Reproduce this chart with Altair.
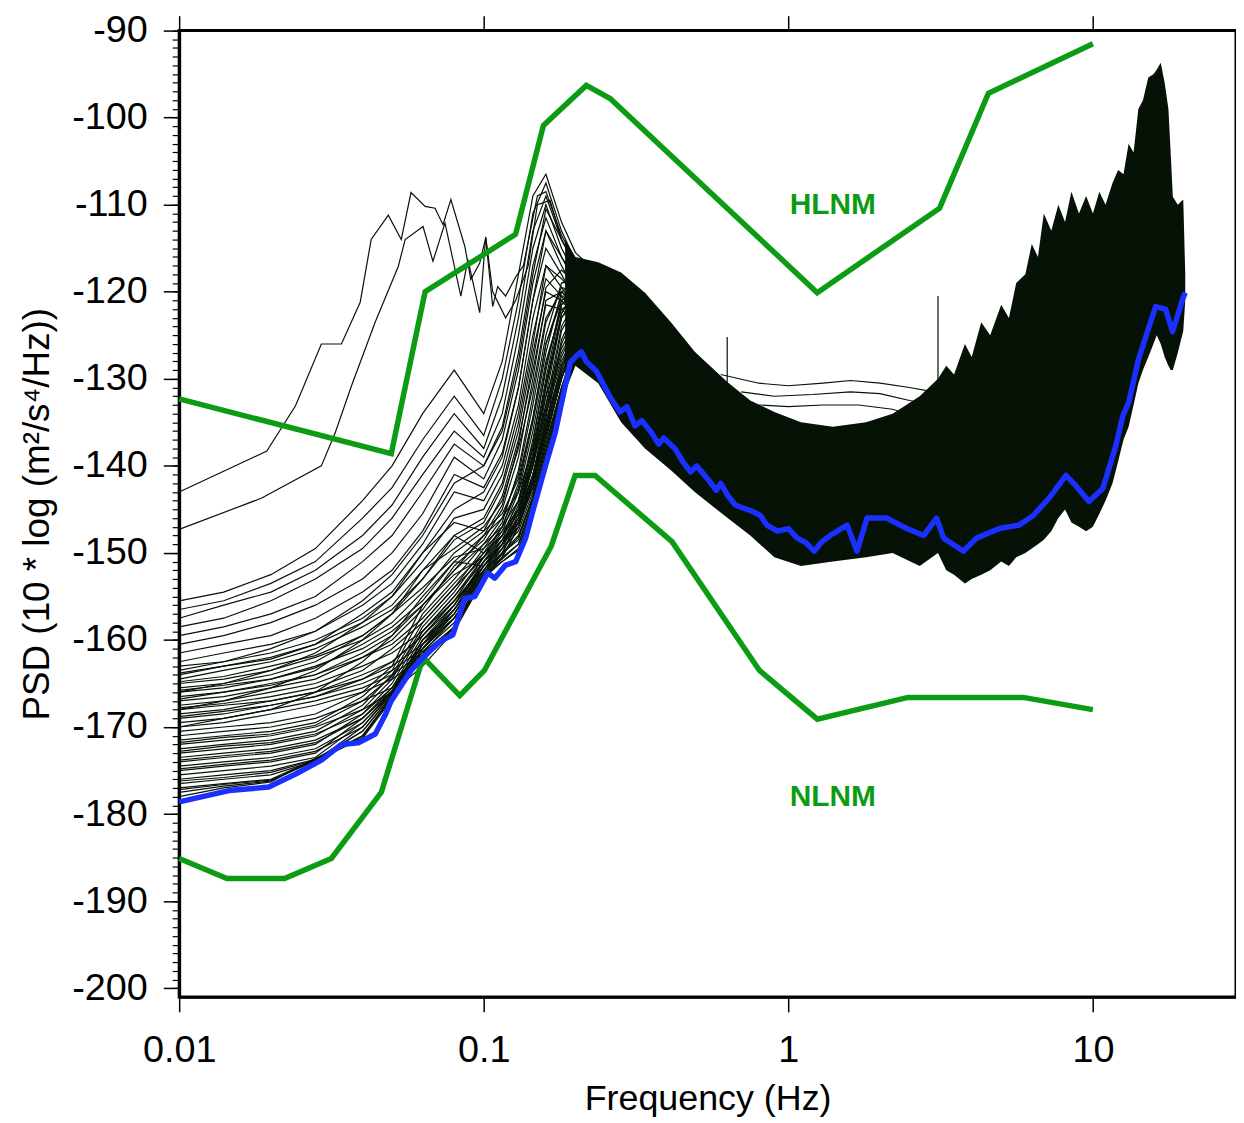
import altair as alt
import pandas as pd

# ---------------- data ----------------
# Peterson noise models (green)
HLNM_F = [0.01, 0.0497, 0.0642, 0.1272, 0.157, 0.2171, 0.26, 1.244, 3.138, 4.54, 10.0]
HLNM_V = [-132.3, -138.6, -120.0, -113.4, -100.9, -96.3, -97.8, -120.1, -110.4, -97.2, -91.5]

NLNM_F = [0.01, 0.01435, 0.02218, 0.0316, 0.0461, 0.0632, 0.0834, 0.1005, 0.1667, 0.1995,
          0.232, 0.415, 0.804, 1.245, 2.47, 5.9, 10.0]
NLNM_V = [-185.1, -187.4, -187.4, -185.1, -177.5, -162.0, -166.4, -163.5, -149.2, -141.1,
          -141.1, -148.7, -163.5, -169.1, -166.6, -166.6, -168.0]

# minimum PSD (blue)
BLUE_F = [0.01, 0.01457, 0.01968, 0.02412, 0.02933, 0.0341, 0.03874, 0.04404, 0.04749, 0.04967,
          0.05771, 0.06319, 0.07237, 0.0792, 0.08668, 0.09346, 0.1031, 0.1086, 0.118, 0.1273,
          0.1372, 0.1457, 0.1595, 0.1719, 0.1826, 0.1924, 0.2013, 0.2091, 0.2171, 0.2341,
          0.262, 0.28, 0.295, 0.3139, 0.33, 0.354, 0.375, 0.39, 0.4241, 0.45,
          0.4783, 0.5, 0.5436, 0.58, 0.6, 0.6322, 0.67, 0.7182, 0.76, 0.8098,
          0.85, 0.9207, 1.0, 1.07, 1.14, 1.216, 1.29, 1.372, 1.559, 1.681,
          1.813, 2.107, 2.448, 2.782, 3.068, 3.234, 3.761, 4.146, 4.93, 5.73,
          6.37, 7.18, 8.16, 8.8, 9.7, 10.78, 11.89, 12.53, 13.11, 14.13,
          15.2, 16.07, 17.32, 18.26, 19.68, 20.1]
BLUE_V = [-178.6, -177.3, -176.9, -175.4, -173.8, -172.0, -171.8, -170.8, -168.6, -167.0,
          -163.5, -162.0, -160.1, -159.4, -155.2, -155.0, -152.3, -152.9, -151.4, -151.0,
          -148.3, -144.9, -140.0, -136.1, -131.8, -128.1, -127.4, -126.9, -128.0, -129.1,
          -132.3, -133.8, -133.2, -135.4, -134.8, -136.1, -137.5, -136.8, -138.0, -139.5,
          -140.7, -140.0, -141.5, -142.8, -142.0, -143.4, -144.5, -144.9, -145.2, -145.7,
          -146.8, -147.5, -147.2, -148.3, -148.8, -149.8, -148.7, -148.0, -146.8, -149.8,
          -146.0, -146.0, -147.2, -148.0, -146.0, -148.3, -149.8, -148.3, -147.2, -146.8,
          -145.7, -143.7, -141.1, -142.3, -144.1, -142.6, -137.7, -134.3, -132.7, -127.7,
          -124.3, -121.7, -122.0, -124.6, -120.9, -120.1]

# dense black mass of spectra (upper / lower envelope)
BAND_F = [0.185, 0.2, 0.2376, 0.2825, 0.3384, 0.4116, 0.493, 0.632, 0.75, 0.9, 1.1,
          1.4, 1.8, 2.2, 2.7, 3.1, 3.3, 3.5, 3.8, 4.0, 4.3,
          4.6, 5.0, 5.3, 5.6, 6.0, 6.3, 6.6, 6.9, 7.3, 7.7,
          8.1, 8.5, 9.0, 9.5, 10.0, 10.5, 11.0, 11.6, 12.1, 12.6,
          13.1, 13.6, 14.1, 14.6, 15.2, 15.8, 16.2, 16.7, 17.2, 17.7,
          18.0, 18.3, 19.0, 19.8, 20.1]
BAND_TOP = [-114.0, -116.0, -116.6, -117.8, -120.1, -123.5, -126.9, -130.4, -132.5, -133.8, -135.0,
            -135.5, -135.0, -134.0, -132.0, -130.0, -128.5, -129.5, -126.0, -127.5, -123.5,
            -125.0, -121.5, -123.0, -119.0, -118.0, -114.5, -116.0, -111.0, -113.0, -110.0,
            -112.0, -108.5, -111.0, -109.0, -111.0, -108.5, -110.0, -107.5, -106.0, -106.5,
            -103.0, -104.0, -99.0, -98.0, -95.4, -95.0, -94.5, -93.7, -96.0, -99.0,
            -104.0, -109.1, -110.0, -109.4, -118.0]
BAND_LOW = [-131.5, -128.5, -130.5, -135.0, -138.0, -140.5, -143.0, -146.0, -148.0, -150.5, -151.5,
            -151.0, -150.5, -150.0, -151.5, -150.0, -152.0, -152.5, -153.5, -153.0, -152.5,
            -152.0, -151.0, -151.5, -150.5, -150.0, -149.5, -149.0, -148.5, -147.5, -146.0,
            -145.0, -146.5, -147.0, -147.5, -147.0, -145.5, -144.0, -142.0, -139.5, -137.0,
            -135.5, -133.0, -130.5, -129.0, -127.5, -126.0, -125.0, -126.0, -127.5, -128.5,
            -129.0, -129.0, -127.0, -124.5, -121.0]

# low-frequency spectra (thin black lines)
FAN_F = [0.01, 0.014, 0.02, 0.028, 0.04, 0.05, 0.063, 0.08, 0.1, 0.115, 0.13, 0.145, 0.16, 0.18, 0.2, 0.23, 0.27]
U1 = [-155.5, -154.5, -152.5, -149.5, -144.0, -140.0, -134.0, -129.0, -134.0, -128.0, -118.0, -109.0, -106.5, -112.0, -115.5, -117.5, -120.0]
U2 = [-156.5, -155.5, -153.5, -151.0, -146.0, -142.5, -137.0, -132.0, -136.5, -130.0, -121.0, -111.0, -107.5, -113.0, -116.5, -118.5, -121.0]
U3 = [-157.5, -156.0, -154.5, -152.0, -148.0, -144.5, -139.0, -134.0, -138.0, -132.0, -123.0, -113.0, -109.0, -114.0, -117.0, -119.0, -122.0]
U4 = [-158.5, -157.5, -155.5, -153.0, -149.5, -146.0, -141.0, -136.0, -139.0, -134.0, -125.0, -115.0, -110.0, -115.0, -118.0, -120.0, -122.5]
U5 = [-159.5, -158.5, -157.0, -155.0, -151.0, -148.0, -143.0, -137.5, -140.0, -135.5, -127.0, -117.0, -111.5, -116.0, -119.0, -120.5, -123.0]
U6 = [-160.5, -159.5, -158.0, -156.0, -153.0, -150.0, -145.5, -139.0, -141.5, -137.0, -129.0, -119.0, -113.0, -117.0, -120.0, -121.5, -123.5]
U7 = [-161.5, -160.5, -159.5, -157.5, -154.5, -152.0, -147.5, -141.0, -142.5, -138.5, -131.0, -121.0, -115.0, -118.0, -121.0, -122.0, -124.0]
U8 = [-162.5, -161.5, -160.5, -159.0, -156.0, -153.5, -149.0, -143.0, -144.0, -140.0, -133.0, -123.0, -117.0, -119.5, -122.0, -123.0, -125.0]
M1 = [-163.5, -162.5, -161.5, -160.0, -157.5, -155.0, -151.0, -146.0, -145.0, -141.0, -134.0, -125.0, -118.5, -120.5, -122.5, -123.5, -125.0]
M2 = [-164.5, -163.5, -162.5, -161.0, -158.5, -156.5, -153.0, -148.5, -146.5, -142.5, -136.0, -127.0, -120.0, -121.0, -123.0, -124.0, -126.0]
M3 = [-165.0, -164.5, -163.5, -162.0, -160.0, -158.0, -154.5, -150.0, -147.5, -143.5, -137.0, -129.0, -121.5, -122.0, -123.5, -124.5, -126.0]
M4 = [-166.0, -165.5, -164.5, -163.0, -161.0, -159.0, -156.0, -152.0, -149.0, -146.0, -141.0, -133.0, -125.0, -119.0, -118.5, -121.0, -124.0]
M5 = [-166.5, -166.0, -165.0, -164.0, -162.0, -160.5, -157.5, -153.5, -150.0, -147.0, -142.5, -135.0, -127.0, -120.0, -119.0, -121.5, -124.5]
M6 = [-167.5, -167.0, -166.0, -165.0, -163.0, -161.5, -159.0, -155.0, -151.0, -148.0, -144.0, -137.0, -129.0, -121.0, -119.5, -122.0, -125.0]
M7 = [-168.5, -168.0, -167.0, -166.0, -164.5, -163.0, -160.5, -156.5, -152.0, -149.0, -145.0, -139.0, -131.0, -122.5, -120.0, -122.5, -125.5]
M8 = [-169.0, -168.5, -167.5, -166.5, -165.0, -163.5, -161.0, -157.5, -152.5, -150.0, -146.0, -140.0, -133.0, -124.0, -121.0, -123.0, -126.0]
M9 = [-170.0, -169.5, -168.5, -167.5, -166.0, -164.5, -162.0, -158.5, -153.0, -150.5, -147.0, -141.5, -134.5, -125.5, -122.0, -124.0, -127.0]
L1 = [-170.5, -170.0, -169.5, -168.5, -166.0, -163.0, -156.0, -152.0, -148.0, -146.0, -143.0, -138.0, -132.0, -126.5, -123.5, -125.0, -128.5]
L2 = [-171.5, -171.0, -170.5, -169.5, -166.5, -163.5, -157.0, -153.0, -149.0, -147.0, -144.0, -139.0, -133.0, -127.0, -124.0, -125.5, -129.0]
L3 = [-172.5, -172.0, -171.5, -170.5, -167.5, -164.0, -158.0, -154.0, -149.5, -147.5, -145.0, -140.0, -134.0, -128.0, -124.5, -126.0, -129.5]
L4 = [-173.0, -172.5, -172.0, -171.0, -168.0, -164.5, -158.5, -154.5, -150.0, -148.0, -145.5, -141.0, -135.0, -128.5, -125.0, -126.0, -130.0]
L5 = [-174.0, -173.5, -173.0, -172.0, -168.5, -165.0, -159.0, -155.5, -150.5, -148.5, -146.5, -141.5, -135.5, -129.0, -125.0, -126.5, -130.0]
L6 = [-175.0, -174.5, -174.0, -173.0, -169.0, -165.5, -159.5, -156.0, -151.0, -149.0, -147.0, -142.0, -136.0, -129.5, -125.5, -126.5, -130.5]
L7 = [-175.5, -175.0, -174.5, -173.5, -169.5, -166.0, -160.0, -156.5, -151.5, -149.5, -147.5, -143.0, -137.0, -130.0, -125.5, -127.0, -131.0]
L8 = [-176.5, -176.0, -175.5, -173.9, -170.0, -166.0, -160.5, -157.0, -152.0, -150.0, -148.5, -143.5, -137.5, -131.0, -126.0, -127.0, -131.0]
L9 = [-177.5, -176.8, -176.2, -173.8, -171.0, -166.5, -161.0, -157.5, -152.5, -150.5, -149.0, -144.0, -138.5, -131.5, -126.5, -127.5, -131.5]
L10 = [-178.0, -177.0, -176.3, -173.6, -171.2, -166.5, -161.5, -158.5, -152.5, -151.0, -149.5, -144.5, -139.0, -132.0, -126.8, -127.5, -132.0]
A1 = [-163.0, -162.5, -161.0, -159.0, -155.5, -152.5, -148.0, -142.0, -140.0, -136.0, -128.0, -118.0, -110.5, -114.0, -117.0, -119.0, -121.5]
A2 = [-164.0, -163.0, -162.0, -160.5, -157.0, -154.5, -150.0, -145.0, -143.0, -139.0, -131.0, -121.0, -113.0, -116.0, -118.5, -120.0, -122.5]
A3 = [-165.5, -165.0, -164.0, -162.5, -159.5, -157.0, -153.0, -148.0, -146.0, -142.0, -135.0, -126.0, -117.0, -118.5, -120.5, -121.5, -123.5]
A4 = [-167.0, -166.5, -165.5, -164.5, -162.0, -160.0, -156.5, -151.5, -148.5, -145.0, -139.0, -130.0, -121.0, -120.0, -121.5, -122.5, -124.5]
B1 = [-168.0, -167.5, -167.0, -166.0, -164.0, -162.5, -159.5, -155.5, -151.5, -148.5, -144.5, -138.0, -130.0, -121.5, -119.5, -122.0, -125.0]
B2 = [-169.5, -169.0, -168.0, -167.0, -165.5, -164.0, -161.5, -157.5, -152.5, -149.5, -145.5, -140.0, -132.0, -123.0, -120.5, -122.5, -125.5]
B3 = [-171.0, -170.5, -170.0, -169.0, -167.0, -165.5, -162.5, -158.5, -153.0, -150.0, -146.5, -141.0, -134.0, -124.5, -121.5, -123.5, -126.5]
B4 = [-172.0, -171.5, -171.0, -170.0, -168.0, -166.0, -163.0, -159.0, -153.0, -150.5, -147.0, -142.0, -135.5, -126.0, -122.5, -124.5, -127.5]
C1 = [-173.5, -173.0, -172.5, -171.5, -169.0, -166.0, -161.0, -157.0, -151.5, -149.0, -146.5, -142.0, -136.0, -129.5, -125.5, -126.5, -130.0]
C2 = [-174.5, -174.0, -173.5, -172.5, -169.5, -166.0, -160.0, -156.0, -151.0, -149.0, -146.5, -142.5, -136.5, -130.0, -126.0, -127.0, -130.5]
C3 = [-176.0, -175.5, -175.0, -173.7, -170.5, -166.3, -161.0, -157.5, -152.0, -150.0, -148.0, -143.5, -137.5, -131.0, -126.5, -127.5, -131.0]
C4 = [-177.0, -176.5, -176.0, -173.7, -171.0, -166.6, -161.3, -158.0, -152.7, -150.7, -149.0, -144.5, -138.5, -131.8, -126.9, -127.8, -131.8]
D1 = [-166.0, -165.0, -163.5, -161.5, -158.0, -155.0, -150.0, -146.5, -147.5, -145.5, -141.5, -134.5, -126.0, -121.0, -120.0, -122.0, -125.0]
D2 = [-168.0, -167.0, -165.5, -163.5, -160.0, -157.0, -152.0, -148.0, -150.0, -148.0, -144.0, -137.5, -128.5, -121.5, -120.5, -122.5, -125.5]
D3 = [-170.0, -169.0, -168.0, -166.0, -162.5, -159.5, -155.0, -151.0, -151.5, -149.0, -145.0, -139.5, -131.0, -123.0, -121.0, -123.0, -126.0]
E1 = [-163.8, -163.0, -162.2, -160.5, -158.0, -156.0, -152.0, -149.5, -147.0, -144.0, -138.0, -131.0, -123.0, -120.0, -121.5, -123.0, -125.5]
E2 = [-164.8, -164.2, -163.0, -161.8, -159.5, -157.0, -154.0, -150.5, -149.5, -146.5, -140.5, -132.0, -123.5, -119.5, -120.0, -122.0, -124.5]
E3 = [-165.8, -165.2, -164.5, -163.2, -160.5, -158.5, -155.5, -151.0, -148.0, -144.5, -137.5, -128.0, -119.5, -117.5, -119.0, -121.0, -123.5]
E4 = [-166.8, -166.0, -165.2, -164.0, -161.5, -159.5, -156.0, -152.5, -150.5, -147.5, -143.0, -136.0, -128.0, -122.0, -121.0, -122.5, -125.0]
E5 = [-167.8, -167.3, -166.5, -165.5, -163.5, -161.0, -158.0, -154.0, -150.5, -147.0, -142.0, -134.5, -126.0, -120.5, -120.5, -122.5, -125.0]
E6 = [-168.8, -168.2, -167.5, -166.5, -164.5, -162.5, -159.5, -155.5, -152.0, -149.0, -145.0, -138.5, -130.5, -122.5, -120.0, -122.5, -125.5]
E7 = [-172.8, -172.2, -171.8, -170.8, -168.5, -165.5, -160.5, -156.0, -151.5, -149.0, -146.0, -141.5, -135.5, -129.0, -125.0, -126.0, -129.5]
E8 = [-173.8, -173.3, -172.8, -171.8, -169.0, -165.8, -160.0, -157.0, -152.0, -149.5, -147.0, -142.5, -136.5, -130.0, -125.5, -126.5, -130.5]
E9 = [-174.8, -174.3, -173.8, -172.8, -170.0, -166.2, -161.0, -156.5, -151.0, -148.5, -146.0, -141.0, -135.0, -128.5, -124.5, -126.0, -129.5]
E10 = [-176.2, -175.8, -175.2, -173.8, -170.5, -166.4, -160.5, -157.5, -152.3, -150.2, -148.2, -143.8, -138.0, -131.3, -126.6, -127.6, -131.2]
E11 = [-177.2, -176.6, -176.1, -173.9, -171.3, -166.8, -161.7, -158.7, -152.9, -151.0, -149.7, -144.8, -139.3, -132.2, -127.0, -128.0, -132.3]
E12 = [-171.8, -171.2, -170.8, -169.8, -167.0, -164.2, -159.0, -155.0, -150.5, -148.0, -145.0, -139.5, -133.5, -127.5, -124.0, -125.5, -129.0]
FAN_CURVES = [("U1", U1), ("U2", U2), ("U3", U3), ("U4", U4), ("U5", U5), ("U6", U6), ("U7", U7), ("U8", U8),
              ("M1", M1), ("M2", M2), ("M3", M3), ("M4", M4), ("M5", M5), ("M6", M6), ("M7", M7), ("M8", M8), ("M9", M9),
              ("L1", L1), ("L2", L2), ("L3", L3), ("L4", L4), ("L5", L5), ("L6", L6), ("L7", L7), ("L8", L8), ("L9", L9), ("L10", L10),
              ("A1", A1), ("A2", A2), ("A3", A3), ("A4", A4), ("B1", B1), ("B2", B2), ("B3", B3), ("B4", B4),
              ("C1", C1), ("C2", C2), ("C3", C3), ("C4", C4), ("D1", D1), ("D2", D2), ("D3", D3),
              ("E1", E1), ("E2", E2), ("E3", E3), ("E4", E4), ("E5", E5), ("E6", E6),
              ("E7", E7), ("E8", E8), ("E9", E9), ("E10", E10), ("E11", E11), ("E12", E12)]

# two high outlier spectra at low frequency
OUT1_F = [0.01, 0.0194, 0.0241, 0.0293, 0.0341, 0.0393, 0.0427, 0.0486, 0.0536, 0.0577, 0.0642, 0.0692,
          0.0735, 0.078, 0.0867, 0.0907, 0.097, 0.1015, 0.107, 0.1111, 0.118, 0.1273, 0.135, 0.15, 0.16, 0.18, 0.2, 0.23, 0.27]
OUT1_V = [-143.0, -138.3, -133.1, -126.0, -126.0, -121.2, -114.0, -111.2, -114.0, -108.6, -110.2, -110.4,
          -112.3, -109.4, -114.8, -118.6, -116.7, -113.8, -121.7, -119.4, -120.5, -118.3, -117.0, -109.0, -108.5, -113.5, -116.5, -118.5, -120.5]
OUT2_F = [0.01, 0.01867, 0.0293, 0.0326, 0.0368, 0.044, 0.0524, 0.0552, 0.0632, 0.0681, 0.0746, 0.0841,
          0.0887, 0.097, 0.1015, 0.107, 0.118, 0.1273, 0.14, 0.15, 0.165, 0.18, 0.2, 0.23, 0.27]
OUT2_V = [-147.3, -143.7, -140.0, -136.1, -130.8, -123.5, -117.1, -114.0, -112.5, -116.5, -112.1, -120.5,
          -116.3, -122.4, -113.7, -120.0, -123.0, -121.0, -117.0, -110.0, -109.5, -114.0, -117.0, -119.0, -121.0]

# a few separate spectra above the mass, 0.6 - 3.3 Hz
S1_F = [0.6, 0.8, 1.0, 1.3, 1.6, 2.0, 2.5, 3.0, 3.3]
S1_V = [-129.5, -130.5, -130.8, -130.5, -130.2, -130.5, -131.0, -131.5, -132.0]
S2_F = [0.7, 0.9, 1.2, 1.6, 2.0, 2.5, 3.0]
S2_V = [-131.5, -132.0, -131.8, -131.5, -131.7, -132.5, -133.0]
S3_F = [0.8, 1.0, 1.3, 1.7, 2.2, 2.7]
S3_V = [-133.0, -133.2, -133.0, -133.0, -133.5, -134.5]

# isolated spikes
SPIKE_F = [0.63, 3.1]
SPIKE_TOP = [-125.2, -120.5]
SPIKE_BASE = [-131.0, -132.0]

LABEL_TEXT = ["HLNM", "NLNM"]
LABEL_F = [1.40, 1.40]
LABEL_V = [-110.0, -178.0]

X_TICKS = [0.01, 0.1, 1, 10]
Y_TICKS = list(range(-200, -89, 10))
Y_MINOR = list(range(-200, -89, 1))

# ---------------- build tables ----------------
fan_rows = []
for name, vals in FAN_CURVES:
    for f, v in zip(FAN_F, vals):
        fan_rows.append({"f": f, "v": v, "id": name})
for f, v in zip(OUT1_F, OUT1_V):
    fan_rows.append({"f": f, "v": v, "id": "O1"})
for f, v in zip(OUT2_F, OUT2_V):
    fan_rows.append({"f": f, "v": v, "id": "O2"})
fan_df = pd.DataFrame(fan_rows)

sep_rows = []
for name, fs, vs in [("S1", S1_F, S1_V), ("S2", S2_F, S2_V), ("S3", S3_F, S3_V)]:
    for f, v in zip(fs, vs):
        sep_rows.append({"f": f, "v": v, "id": name})
sep_df = pd.DataFrame(sep_rows)

band_df = pd.DataFrame({"f": BAND_F, "top": BAND_TOP, "low": BAND_LOW})
spike_df = pd.DataFrame({"f": SPIKE_F, "top": SPIKE_TOP, "low": SPIKE_BASE})
hlnm_df = pd.DataFrame({"f": HLNM_F, "v": HLNM_V})
nlnm_df = pd.DataFrame({"f": NLNM_F, "v": NLNM_V})
blue_df = pd.DataFrame({"f": BLUE_F, "v": BLUE_V})
label_df = pd.DataFrame({"f": LABEL_F, "v": LABEL_V, "t": LABEL_TEXT})

FONT = "Liberation Sans"
GREEN = "#0c9c14"
BLUE = "#1a30ff"
INK = "#071307"

XS = alt.Scale(type="log", domain=[0.01, 29.5], nice=False)
YS = alt.Scale(domain=[-201, -90], nice=False, zero=False)

x_none = alt.X("f:Q", scale=XS, axis=None)
y_none = alt.Y("v:Q", scale=YS, axis=None)

fan = alt.Chart(fan_df).mark_line(color=INK, strokeWidth=1.2).encode(
    x=x_none, y=y_none, detail="id:N")

band = alt.Chart(band_df).mark_area(color="#061206", opacity=1).encode(
    x=x_none, y=alt.Y("top:Q", scale=YS, axis=None), y2="low:Q")

sep = alt.Chart(sep_df).mark_line(color=INK, strokeWidth=1.1).encode(
    x=x_none, y=y_none, detail="id:N")

spikes = alt.Chart(spike_df).mark_rule(color=INK, strokeWidth=1.2).encode(
    x=x_none, y=alt.Y("top:Q", scale=YS, axis=None), y2="low:Q")

nlnm = alt.Chart(nlnm_df).mark_line(color=GREEN, strokeWidth=5.5).encode(
    x=alt.X("f:Q", scale=XS, axis=alt.Axis(
        values=X_TICKS, labelExpr="'' + datum.value", orient="bottom",
        title="Frequency (Hz)", titleFont=FONT, titleFontSize=36, titleFontWeight="normal",
        titleColor="black", titlePadding=12,
        labelFont=FONT, labelFontSize=38, labelColor="black", labelPadding=20,
        labelFlush=False, labelOverlap=False,
        tickSize=15, tickWidth=1.5, tickColor="black",
        domainColor="black", domainWidth=3, grid=False)),
    y=alt.Y("v:Q", scale=YS, axis=alt.Axis(
        values=Y_TICKS, labelExpr="'' + datum.value", orient="left",
        title="PSD (10 * log (m²/s⁴/Hz))", titleFont=FONT, titleFontSize=37,
        titleFontWeight="normal", titleColor="black", titlePadding=15,
        labelFont=FONT, labelFontSize=38, labelColor="black", labelPadding=16,
        labelFlush=False, labelOverlap=False,
        tickSize=16, tickWidth=1.5, tickColor="black",
        domainColor="black", domainWidth=3, grid=False)))

hlnm = alt.Chart(hlnm_df).mark_line(color=GREEN, strokeWidth=5.5).encode(
    x=alt.X("f:Q", scale=XS, axis=alt.Axis(
        values=X_TICKS, orient="top", labels=False, domain=False, title="",
        tickSize=15, tickWidth=1.5, tickColor="black", grid=False)),
    y=alt.Y("v:Q", scale=YS, axis=alt.Axis(
        values=Y_MINOR, orient="left", labels=False, domain=False, title="",
        tickSize=7, tickWidth=1.2, tickColor="black", grid=False)))

blue = alt.Chart(blue_df).mark_line(color=BLUE, strokeWidth=5.5, strokeJoin="round").encode(
    x=x_none, y=y_none)

labels = alt.Chart(label_df).mark_text(
    font=FONT, fontSize=30, fontWeight="bold", color=GREEN, align="center", baseline="middle"
).encode(x=x_none, y=y_none, text="t:N")

chart = alt.layer(fan, band, sep, spikes, nlnm, hlnm, blue, labels).resolve_axis(
    x="independent", y="independent"
).properties(
    width=1062, height=971,
    padding={"left": 10, "top": 1, "right": 0, "bottom": 0},
    background="white",
).configure_view(stroke="black", strokeWidth=3)

chart.save("out.html", embed_options={"renderer": "svg", "actions": False})
